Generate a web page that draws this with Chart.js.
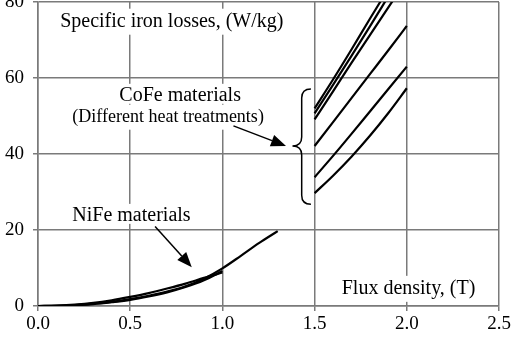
<!DOCTYPE html>
<html>
<head>
    <title>Specific iron losses</title>
    <script src="https://cdn.jsdelivr.net/npm/chart.js"></script>
    <style>
        body { margin: 0; background: #fff; }
        #wrap { width: 513px; height: 337px; }
    </style>
</head>
<body>
    <div id="wrap"><canvas id="lossChart" width="513" height="337"></canvas></div>

    <script>
        // Flux density samples (T)
        const fluxNiFe = [0, 0.1, 0.2, 0.3, 0.4, 0.5, 0.6, 0.7, 0.8, 0.9, 1.0];
        const fluxNiFeLong = [0, 0.1, 0.2, 0.3, 0.4, 0.5, 0.6, 0.7, 0.8, 0.9, 1.0, 1.1, 1.2, 1.3];
        const fluxCoFe = [1.5, 1.6, 1.7, 1.8, 1.9, 2.0];

        // NiFe losses (W/kg)
        const nife1 = [0, 0.05, 0.25, 0.6, 1.1, 1.8, 2.7, 3.8, 5.2, 7.2, 9.9, 13.2, 16.6, 19.7];
        const nife2 = [0, 0.1, 0.35, 0.8, 1.5, 2.4, 3.4, 4.6, 5.9, 7.4, 8.8];
        const nife3 = [0, 0.03, 0.2, 0.5, 1.0, 1.6, 2.5, 3.6, 5.0, 6.8, 9.2];

        // CoFe losses (W/kg), different heat treatments
        const cofeA = [52.0, 59.6, 67.5, 75.6, 83.5, 91.5];
        const cofeB = [50.7, 58.2, 65.8, 73.6, 81.5, 89.4];
        const cofeC = [49.1, 56.5, 64.0, 71.3, 78.6, 85.8];
        const cofeD = [42.1, 48.4, 54.7, 61.0, 67.3, 73.7];
        const cofeE = [33.9, 39.5, 45.3, 51.2, 57.1, 63.0];
        const cofeF = [29.7, 34.3, 39.3, 44.8, 50.8, 57.3];

        const xTicks = [0, 0.5, 1.0, 1.5, 2.0, 2.5];
        const yTicks = [0, 20, 40, 60, 80];

        const serif = '"Liberation Serif", "Times New Roman", serif';
        const gridGray = '#7a7a7a';

        function pts(xs, ys) {
            return ys.map((y, i) => ({ x: xs[i], y: y }));
        }

        function curve(xs, ys) {
            return {
                data: pts(xs, ys),
                borderColor: '#000',
                borderWidth: 2.2,
                pointRadius: 0,
                cubicInterpolationMode: 'monotone',
                fill: false
            };
        }

        // in-plot labels, positioned in data units
        const labels = [
            { text: 'Specific iron losses, (W/kg)', x: 0.12, y: 73.5, size: 20 },
            { text: 'CoFe materials', x: 0.441, y: 54.0, size: 20 },
            { text: '(Different heat treatments)', x: 0.186, y: 48.5, size: 18 },
            { text: 'NiFe materials', x: 0.186, y: 22.4, size: 20 },
            { text: 'Flux density, (T)', x: 1.647, y: 3.2, size: 20 }
        ];

        const arrows = [
            { from: [0.635, 20.9], to: [0.834, 10.2] },
            { from: [1.06, 47.4], to: [1.345, 42.1] }
        ];

        // brace grouping the CoFe curves
        const brace = { arm: 1.48, spine: 1.43, tip: 1.38, top: 57.1, mid: 42.1, bottom: 26.8 };

        const notes = {
            id: 'notes',
            afterDatasetsDraw(chart) {
                const ctx = chart.ctx;
                const xs = chart.scales.x, ys = chart.scales.y;
                ctx.save();

                labels.forEach(l => {
                    ctx.font = l.size + 'px ' + serif;
                    const px = xs.getPixelForValue(l.x), py = ys.getPixelForValue(l.y);
                    const m = ctx.measureText(l.text);
                    ctx.fillStyle = '#fff';
                    ctx.fillRect(px - 3, py - m.actualBoundingBoxAscent - 3,
                        m.width + 6, m.actualBoundingBoxAscent + m.actualBoundingBoxDescent + 6);
                    ctx.fillStyle = '#000';
                    ctx.textBaseline = 'alphabetic';
                    ctx.fillText(l.text, px, py);
                });

                ctx.strokeStyle = '#000';
                ctx.fillStyle = '#000';
                ctx.lineWidth = 1.5;
                arrows.forEach(a => {
                    const x0 = xs.getPixelForValue(a.from[0]), y0 = ys.getPixelForValue(a.from[1]);
                    const x1 = xs.getPixelForValue(a.to[0]), y1 = ys.getPixelForValue(a.to[1]);
                    const ang = Math.atan2(y1 - y0, x1 - x0);
                    const len = 15, half = 6;
                    const bx = x1 - len * Math.cos(ang), by = y1 - len * Math.sin(ang);
                    ctx.beginPath();
                    ctx.moveTo(x0, y0);
                    ctx.lineTo(bx, by);
                    ctx.stroke();
                    ctx.beginPath();
                    ctx.moveTo(x1, y1);
                    ctx.lineTo(bx + half * Math.sin(ang), by - half * Math.cos(ang));
                    ctx.lineTo(bx - half * Math.sin(ang), by + half * Math.cos(ang));
                    ctx.closePath();
                    ctx.fill();
                });

                const arm = xs.getPixelForValue(brace.arm);
                const sp = xs.getPixelForValue(brace.spine);
                const tip = xs.getPixelForValue(brace.tip);
                const top = ys.getPixelForValue(brace.top);
                const mid = ys.getPixelForValue(brace.mid);
                const bot = ys.getPixelForValue(brace.bottom);
                const r = 9;
                ctx.beginPath();
                ctx.moveTo(arm, top);
                ctx.quadraticCurveTo(sp, top, sp, top + r);
                ctx.lineTo(sp, mid - r);
                ctx.quadraticCurveTo(sp, mid, tip, mid);
                ctx.quadraticCurveTo(sp, mid, sp, mid + r);
                ctx.lineTo(sp, bot - r);
                ctx.quadraticCurveTo(sp, bot, arm, bot);
                ctx.stroke();

                ctx.restore();
            }
        };

        new Chart(document.getElementById('lossChart').getContext('2d'), {
            type: 'line',
            data: {
                datasets: [
                    curve(fluxNiFeLong, nife1),
                    curve(fluxNiFe, nife2),
                    curve(fluxNiFe, nife3),
                    curve(fluxCoFe, cofeA),
                    curve(fluxCoFe, cofeB),
                    curve(fluxCoFe, cofeC),
                    curve(fluxCoFe, cofeD),
                    curve(fluxCoFe, cofeE),
                    curve(fluxCoFe, cofeF)
                ]
            },
            options: {
                responsive: false,
                animation: false,
                layout: { padding: { top: 2, right: 14, left: 0, bottom: 0 } },
                plugins: {
                    legend: { display: false },
                    tooltip: { enabled: false }
                },
                scales: {
                    x: {
                        type: 'linear',
                        min: 0,
                        max: 2.5,
                        afterFit: s => {
                            s.height = 31;
                            s.paddingLeft = 0;
                            s.paddingRight = 0;
                        },
                        afterBuildTicks: s => { s.ticks = xTicks.map(v => ({ value: v })); },
                        ticks: {
                            color: '#000',
                            font: { family: serif, size: 19 },
                            padding: 2,
                            maxRotation: 0,
                            callback: v => v.toFixed(1)
                        },
                        grid: { color: gridGray, lineWidth: 1.5, tickLength: 5, tickColor: gridGray },
                        border: { color: gridGray, width: 1.5 }
                    },
                    y: {
                        min: 0,
                        max: 80,
                        afterFit: s => {
                            s.width = 38;
                            s.paddingTop = 0;
                            s.paddingBottom = 0;
                        },
                        afterBuildTicks: s => { s.ticks = yTicks.map(v => ({ value: v })); },
                        ticks: {
                            color: '#000',
                            font: { family: serif, size: 19 },
                            padding: 9
                        },
                        grid: { color: gridGray, lineWidth: 1.5, tickLength: 5, tickColor: gridGray },
                        border: { color: gridGray, width: 1.5 }
                    }
                }
            },
            plugins: [notes]
        });
    </script>
</body>
</html>
